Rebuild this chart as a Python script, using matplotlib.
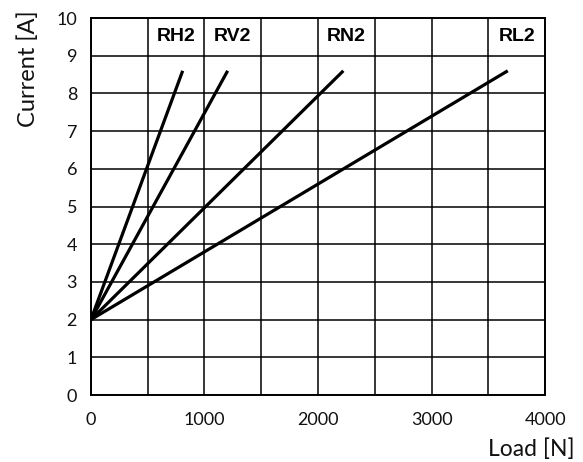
import numpy as np
import matplotlib.pyplot as plt

plt.rcParams["font.family"] = ["Lato", "DejaVu Sans"]

# data: each model starts at 2 A with no load, ends at 8.6 A
models = ["RH2", "RV2", "RN2", "RL2"]
load_start = [0, 0, 0, 0]
load_end = [808, 1204, 2223, 3671]
current_start = [2.0, 2.0, 2.0, 2.0]
current_end = [8.6, 8.6, 8.6, 8.6]
label_x = [750, 1250, 2250, 3750]
label_y = 9.5

fig = plt.figure(figsize=(5.83, 4.62), dpi=100)
ax = fig.add_axes([0.156, 0.145, 0.779, 0.816])

for x0, x1, y0, y1 in zip(load_start, load_end, current_start, current_end):
    ax.plot([x0, x1], [y0, y1], color="black", linewidth=2.3,
            solid_capstyle="butt", zorder=3)

for name, lx in zip(models, label_x):
    ax.text(lx, label_y, name, ha="center", va="center",
            fontsize=14, fontweight="bold", family="Liberation Sans")

ax.set_xlim(0, 4000)
ax.set_ylim(0, 10)
ax.set_xticks([0, 1000, 2000, 3000, 4000])
ax.set_xticks(np.arange(0, 4001, 500), minor=True)
ax.set_yticks(np.arange(0, 11, 1))
ax.grid(True, which="both", color="black", linewidth=1.1)
ax.tick_params(which="both", length=0, labelsize=13, colors="#111111")
ax.tick_params(axis="x", pad=12)
ax.tick_params(axis="y", pad=10)
for sp in ax.spines.values():
    sp.set_linewidth(1.4)

ax.set_ylabel("Current [A]", fontsize=17, loc="top", color="#111111")
ax.yaxis.set_label_coords(-0.115, 1.02)
ax.set_xlabel("Load [N]", fontsize=16.5, loc="right", color="#111111")
ax.xaxis.set_label_coords(1.066, -0.115)

fig.savefig("out.png", dpi=100)
